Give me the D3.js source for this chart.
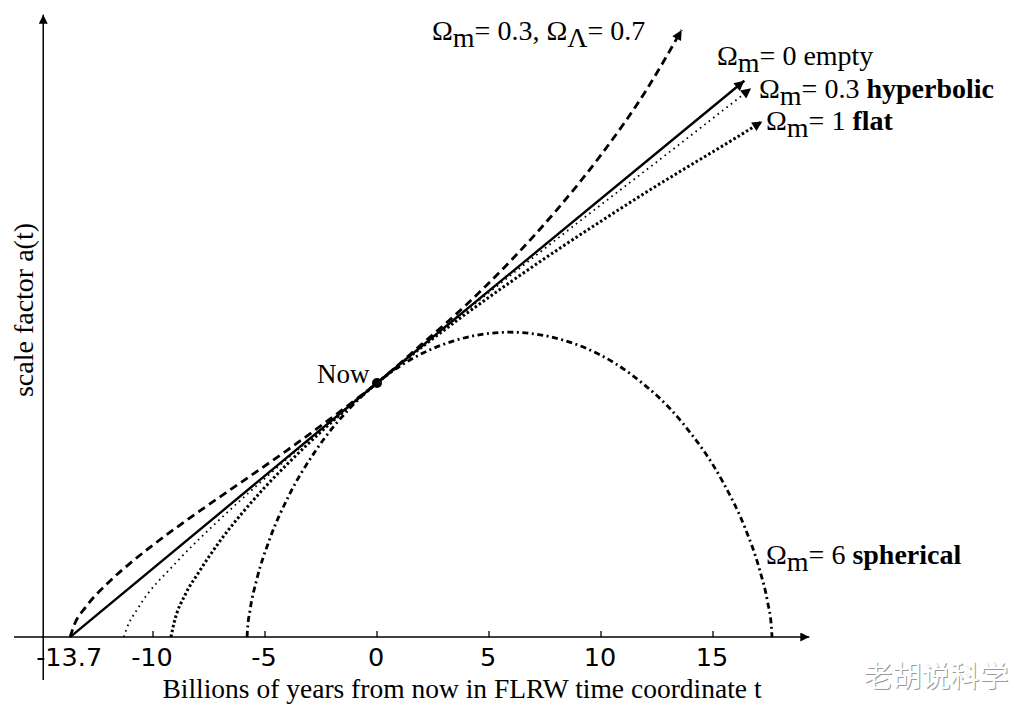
<!DOCTYPE html>
<html><head><meta charset="utf-8">
<script src="https://cdn.jsdelivr.net/npm/d3@7"></script>
<style>html,body{margin:0;padding:0;background:#fff;}svg{display:block;}</style>
</head><body>
<script>
// ---- data: [t in Gyr from now, scale factor a] ----
const xTicks = [-13.7, -10, -5, 0, 5, 10, 15];
const xTickLabels = ["-13.7", "-10", "-5", "0", "5", "10", "15"];
const lambdaCDM = [[-13.7,0],[-13.5,0.051],[-13,0.118],[-12,0.214],[-11,0.292],[-10,0.362],[-8,0.491],[-6,0.613],[-4,0.736],[-2,0.865],[0,1],[2,1.153],[4,1.309],[6,1.484],[8,1.679],[10,1.898],[12,2.15],[13.6,2.39]];
const emptyU = [[-13.7,0],[0,1],[16.4,2.19]];
const hyperbolic = [[-11.3,0],[-11.2,0.027],[-10.65,0.116],[-9.0,0.29],[-7.15,0.452],[-5.42,0.592],[-3.18,0.765],[0,1],[3.29,1.236],[7.84,1.554],[13.55,1.943],[16.7,2.16]];
const flat = [[-9.2,0],[-9.05,0.059],[-8.55,0.169],[-8,0.249],[-7,0.379],[-6,0.49],[-5,0.59],[-4,0.681],[-3,0.767],[-2,0.848],[-1,0.926],[0,1],[2,1.141],[4,1.274],[6,1.4],[8,1.521],[10,1.637],[12,1.75],[14,1.858],[16,1.964],[17.2,2.03]];
const spherical = [[-5.8,0],[-5.783,0.027],[-5.668,0.105],[-5.365,0.227],[-4.8,0.383],[-3.926,0.558],[-2.718,0.736],[-1.187,0.903],[0,1],[1.293,1.081],[3.394,1.165],[5.918,1.2],[8.564,1.162],[11.313,1.036],[13.656,0.841],[15.461,0.607],[16.427,0.43],[17.073,0.267],[17.443,0.135],[17.602,0.044],[17.636,0]];
const nowPoint = [0, 1];

const W = 1024, H = 709;
const SERIF = "'Liberation Serif', 'Times New Roman', serif";
const svg = d3.select("body").append("svg").attr("width", W).attr("height", H);

const x = d3.scaleLinear().domain([0, 5]).range([377, 489]);
const y = d3.scaleLinear().domain([0, 1]).range([637, 383]);

const defs = svg.append("defs");
function marker(id, w, h) {
  defs.append("marker").attr("id", id).attr("viewBox", "0 0 10 10")
    .attr("refX", 10).attr("refY", 5).attr("markerUnits", "userSpaceOnUse")
    .attr("markerWidth", w).attr("markerHeight", h).attr("orient", "auto")
    .append("path").attr("d", "M0,0L10,5L0,10Z").attr("fill", "#000");
}
marker("arrAxis", 16, 9);
marker("arrCurve", 15, 10);

// axes
const xAxisY = y(0);
svg.append("line").attr("x1", 14).attr("x2", x(19.3)).attr("y1", xAxisY).attr("y2", xAxisY)
  .attr("stroke", "#000").attr("stroke-width", 1.5).attr("marker-end", "url(#arrAxis)");
const yAxisX = x(-14.9);
svg.append("line").attr("x1", yAxisX).attr("x2", yAxisX).attr("y1", 680).attr("y2", y(2.45))
  .attr("stroke", "#000").attr("stroke-width", 1.5).attr("marker-end", "url(#arrAxis)");

const gx = svg.append("g");
gx.selectAll("line.tk").data(xTicks.slice(1)).join("line").attr("class", "tk")
  .attr("x1", d => x(d)).attr("x2", d => x(d)).attr("y1", xAxisY - 6).attr("y2", xAxisY)
  .attr("stroke", "#000").attr("stroke-width", 1.3);
gx.selectAll("text").data(xTicks).join("text")
  .attr("x", d => x(d) - 1).attr("y", 666)
  .attr("text-anchor", "middle")
  .attr("font-family", "DejaVu Sans").attr("font-size", 25.5)
  .text((d, i) => xTickLabels[i]);

svg.append("text").attr("x", 462).attr("y", 698).attr("text-anchor", "middle")
  .style("font-family", SERIF).attr("font-size", 27.5)
  .text("Billions of years from now in FLRW time coordinate t");
svg.append("text").attr("transform", "translate(33,310) rotate(-90)").attr("text-anchor", "middle")
  .style("font-family", SERIF).attr("font-size", 28)
  .text("scale factor a(t)");

// curves
const line = d3.line().x(d => x(d[0])).y(d => y(d[1])).curve(d3.curveMonotoneX);
const curves = [
  {data: spherical, w: 2.8, dash: "6,3.5,2,3.5", arrow: false},
  {data: flat, w: 3, dash: "2.5,2.4", arrow: true},
  {data: hyperbolic, w: 1.8, dash: "1.6,4", arrow: true},
  {data: lambdaCDM, w: 2.8, dash: "8,5", arrow: true},
  {data: emptyU, w: 2.4, dash: null, arrow: true}
];
curves.forEach(c => {
  svg.append("path").datum(c.data).attr("d", line).attr("fill", "none")
    .attr("stroke", "#000").attr("stroke-width", c.w)
    .attr("stroke-dasharray", c.dash)
    .attr("marker-end", c.arrow ? "url(#arrCurve)" : null);
});

svg.append("circle").attr("cx", x(nowPoint[0])).attr("cy", y(nowPoint[1])).attr("r", 5).attr("fill", "#000");
svg.append("text").attr("x", 317).attr("y", 383).style("font-family", SERIF).attr("font-size", 27).text("Now");

// labels
function label(xp, yp, parts) {
  const t = svg.append("text").attr("x", xp).attr("y", yp)
    .style("font-family", SERIF).attr("font-size", 28);
  parts.forEach(p => {
    const s = t.append("tspan").text(p.s);
    if (p.dy) s.attr("dy", p.dy);
    if (p.b) s.attr("font-weight", "bold");
  });
}
label(432, 40, [{s: "Ω"}, {s: "m", dy: 7}, {s: "= 0.3, Ω", dy: -7}, {s: "Λ", dy: 7}, {s: "= 0.7", dy: -7}]);
label(717, 65, [{s: "Ω"}, {s: "m", dy: 7}, {s: "= 0 empty", dy: -7}]);
label(759, 98, [{s: "Ω"}, {s: "m", dy: 7}, {s: "= 0.3 ", dy: -7}, {s: "hyperbolic", b: true}]);
label(766, 130, [{s: "Ω"}, {s: "m", dy: 7}, {s: "= 1 ", dy: -7}, {s: "flat", b: true}]);
label(766, 564, [{s: "Ω"}, {s: "m", dy: 7}, {s: "= 6 ", dy: -7}, {s: "spherical", b: true}]);

// watermark
svg.append("text").attr("x", 937).attr("y", 688).attr("text-anchor", "middle")
  .attr("font-family", "Noto Sans CJK SC").attr("font-size", 29).attr("fill", "#9a9a9a").text("老胡说科学");
svg.append("text").attr("x", 936).attr("y", 687).attr("text-anchor", "middle")
  .attr("font-family", "Noto Sans CJK SC").attr("font-size", 29).attr("fill", "#ffffff").text("老胡说科学");
</script>
</body></html>
